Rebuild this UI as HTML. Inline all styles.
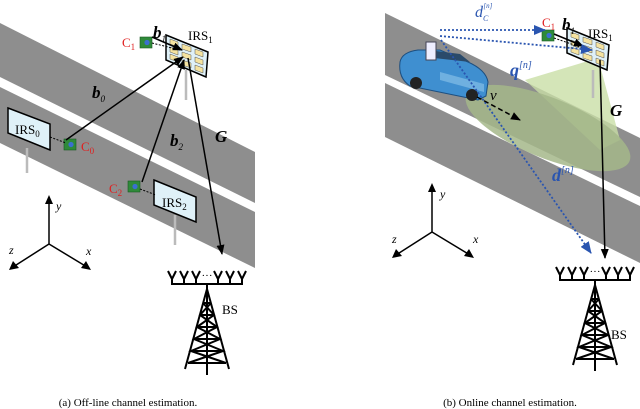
<!DOCTYPE html>
<html><head><meta charset="utf-8"><style>html,body{margin:0;padding:0;background:#fff}svg{display:block}</style></head>
<body>
<svg width="640" height="409" viewBox="0 0 640 409" xmlns="http://www.w3.org/2000/svg" font-family="Liberation Serif, serif">
<defs>
<marker id="ab" markerWidth="10" markerHeight="10" refX="9" refY="5" orient="auto" markerUnits="userSpaceOnUse"><path d="M0,1 L10,5 L0,9 z" fill="#000"/></marker>
<marker id="abl" markerWidth="12" markerHeight="10" refX="11" refY="5" orient="auto" markerUnits="userSpaceOnUse"><path d="M0,0 L12,5 L0,10 z" fill="#2a55b0"/></marker>
<g id="chip"><rect x="0" y="0" width="12" height="11" fill="#2f8a3a" stroke="#1a5a22" stroke-width="0.6"/><circle cx="7" cy="5.5" r="2.6" fill="#3a6fd0"/></g>
<g id="irs"><polygon points="0,0 42,17 40,42 0,25" fill="#dff1f8" stroke="#000" stroke-width="1.5"/>
<g fill="#f5e3a0" stroke="#555" stroke-width="0.5">
<polygon points="4,4 12,7 12,12 4,9"/><polygon points="16,9 25,12 25,17 16,14"/><polygon points="29,14 37,17 37,22 29,19"/>
<polygon points="4,12 12,15 12,20 4,17"/><polygon points="16,17 25,20 25,25 16,22"/><polygon points="29,22 37,25 37,30 29,27"/>
<polygon points="4,19 12,22 12,27 4,24"/><polygon points="16,25 25,28 25,33 16,30"/><polygon points="29,30 37,33 37,38 29,35"/></g></g>
<g id="bs"><path d="M-35,0 l-4,-8 M-35,0 l4,-8 M-23,0 l-4,-8 M-23,0 l4,-8 M-11,0 l-4,-8 M-11,0 l4,-8 M11,0 l-4,-8 M11,0 l4,-8 M23,0 l-4,-8 M23,0 l4,-8 M35,0 l-4,-8 M35,0 l4,-8 M-35,0 v5 H35 V0 M-23,0 v5 M-11,0 v5 M11,0 v5 M23,0 v5" stroke="#000" stroke-width="2" fill="none"/>
<text x="0" y="0" font-size="11" text-anchor="middle">···</text>
<path d="M0,5 V96 M0,10 L-22,90 M0,10 L22,90 M-4,24 L4,24 M-7,36 L7,36 M-10,48 L10,48 M-13,60 L13,60 M-16,72 L16,72 M-19,84 L19,84 M-4,24 L7,36 L-10,48 L13,60 L-16,72 L19,84 M4,24 L-7,36 L10,48 L-13,60 L16,72 L-19,84" stroke="#000" stroke-width="2" fill="none"/></g>
<g id="axes"><path d="M0,0 V-44 M0,0 L-36,23 M0,0 L38,23" stroke="#000" stroke-width="1.5" fill="none"/>
<path d="M0,-49 l-4,9 h8z M-40,26 l4,-9 l6,7z M42,26 l-10,-2 l5,-7z" fill="#000"/></g>
</defs>

<polygon points="0,23 255,152 255,203 0,77" fill="#8e8e8e"/>
<polygon points="0,87 255,212 255,268 0,143" fill="#8e8e8e"/>
<polygon points="385,13 640,138 640,197 385,75" fill="#8e8e8e"/>
<polygon points="385,83 640,206 640,263 385,137" fill="#8e8e8e"/>

<!-- LEFT -->
<line x1="27" y1="148" x2="27" y2="173" stroke="#bbb" stroke-width="2.5"/>
<line x1="175" y1="215" x2="175" y2="245" stroke="#bbb" stroke-width="2.5"/>
<line x1="186" y1="70" x2="186" y2="100" stroke="#bbb" stroke-width="2.5"/>
<polygon points="8,108 50,124 50,150 8,133" fill="#dff1f8" stroke="#000" stroke-width="1.5"/>
<text x="15" y="134" font-size="13">IRS<tspan font-size="9" dy="3">0</tspan></text>
<polygon points="154,180 196,197 196,222 154,205" fill="#dff1f8" stroke="#000" stroke-width="1.5"/>
<text x="162" y="207" font-size="13">IRS<tspan font-size="9" dy="3">2</tspan></text>
<use href="#irs" x="166" y="35"/>
<text x="188" y="40" font-size="13">IRS<tspan font-size="9" dy="3">1</tspan></text>
<use href="#chip" x="140" y="37"/>
<use href="#chip" x="64" y="139"/>
<use href="#chip" x="128" y="181"/>
<text x="122" y="47" font-size="13" fill="#e02020">C<tspan font-size="9" dy="3">1</tspan></text>
<text x="81" y="151" font-size="13" fill="#e02020">C<tspan font-size="9" dy="3">0</tspan></text>
<text x="109" y="193" font-size="13" fill="#e02020">C<tspan font-size="9" dy="3">2</tspan></text>
<path d="M50,137 L66,143 M140,189 L156,195 M152,43 L180,50" stroke="#000" stroke-width="1" stroke-dasharray="2,1.5"/>
<line x1="152" y1="37" x2="182" y2="50" stroke="#000" stroke-width="1.5" marker-end="url(#ab)"/>
<line x1="66" y1="140" x2="183" y2="57" stroke="#000" stroke-width="1.5" marker-end="url(#ab)"/>
<line x1="142" y1="182" x2="184" y2="60" stroke="#000" stroke-width="1.5" marker-end="url(#ab)"/>
<line x1="188" y1="58" x2="222" y2="254" stroke="#000" stroke-width="1.5" marker-end="url(#ab)"/>
<text x="153" y="38" font-size="17" font-weight="bold" font-style="italic">b<tspan font-size="9" dy="4" font-weight="normal">1</tspan></text>
<text x="92" y="98" font-size="17" font-weight="bold" font-style="italic">b<tspan font-size="9" dy="4" font-weight="normal">0</tspan></text>
<text x="170" y="146" font-size="17" font-weight="bold" font-style="italic">b<tspan font-size="9" dy="4" font-weight="normal">2</tspan></text>
<text x="215" y="142" font-size="17" font-weight="bold" font-style="italic">G</text>
<use href="#axes" x="49" y="244"/>
<text x="56" y="210" font-size="12" font-style="italic">y</text>
<text x="9" y="254" font-size="12" font-style="italic">z</text>
<text x="86" y="255" font-size="12" font-style="italic">x</text>
<use href="#bs" x="207" y="279"/>
<text x="222" y="314" font-size="13">BS</text>
<text x="128" y="406" font-size="11" text-anchor="middle">(a) Off-line channel estimation.</text>

<!-- RIGHT -->
<polygon points="598,58 525,80 600,150 620,140" fill="#c9dfa6" opacity="0.8"/>
<ellipse cx="548" cy="128" rx="88" ry="30" transform="rotate(22 548 128)" fill="#a4b78a" opacity="0.85"/>
<line x1="593" y1="70" x2="593" y2="98" stroke="#bbb" stroke-width="2.5"/>
<use href="#irs" x="567" y="28"/>
<text x="588" y="38" font-size="13">IRS<tspan font-size="9" dy="3">1</tspan></text>
<use href="#chip" x="542" y="30"/>
<text x="542" y="27" font-size="13" fill="#e02020">C<tspan font-size="9" dy="3">1</tspan></text>
<text x="562" y="30" font-size="17" font-weight="bold" font-style="italic">b<tspan font-size="9" dy="4" font-weight="normal">1</tspan></text>
<path d="M554,34 L583,46" stroke="#000" stroke-width="1.5" marker-end="url(#ab)"/>
<path d="M554,38 L583,48" stroke="#000" stroke-width="1" stroke-dasharray="2,1.5"/>
<!-- car -->
<g>
<path d="M400,62 Q402,52 418,50 L440,50 L468,62 Q486,70 488,82 L486,96 L478,100 L410,86 Q398,78 400,62z" fill="#3f8fd0" stroke="#1d4f80" stroke-width="1"/>
<path d="M428,50 L460,54 L470,62 L434,58z" fill="#2a4a6a"/>
<path d="M440,72 L484,84 L484,92 L440,80z" fill="#6fb0e0"/>
<rect x="426" y="42" width="10" height="18" fill="#eef" stroke="#445"/>
<circle cx="416" cy="83" r="6" fill="#222"/><circle cx="472" cy="95" r="6" fill="#222"/>
</g>
<path d="M440,30 L545,30" stroke="#2a55b0" stroke-width="1.8" stroke-dasharray="2,2" marker-end="url(#abl)"/>
<path d="M440,36 L592,50" stroke="#2a55b0" stroke-width="1.8" stroke-dasharray="2,2" marker-end="url(#abl)"/>
<path d="M441,40 L591,253" stroke="#2a55b0" stroke-width="1.8" stroke-dasharray="2,2" marker-end="url(#abl)"/>
<line x1="600" y1="60" x2="605" y2="258" stroke="#000" stroke-width="1.5" marker-end="url(#ab)"/>
<path d="M477,97 L520,120" stroke="#000" stroke-width="1.5" stroke-dasharray="5,3" marker-end="url(#ab)"/>
<text x="490" y="100" font-size="15" font-style="italic">v</text>
<text x="475" y="17" font-size="16" font-style="italic" fill="#2a55b0">d<tspan font-size="8" dy="4">C</tspan><tspan font-size="7" dx="-5" dy="-13">[n]</tspan></text>
<text x="510" y="76" font-size="18" font-weight="bold" font-style="italic" fill="#2a55b0">q<tspan font-size="10" dy="-8" font-weight="normal">[n]</tspan></text>
<text x="552" y="181" font-size="18" font-weight="bold" font-style="italic" fill="#2a55b0">d<tspan font-size="10" dy="-8" font-weight="normal">[n]</tspan></text>
<text x="610" y="116" font-size="17" font-weight="bold" font-style="italic">G</text>
<use href="#axes" x="432" y="232"/>
<text x="440" y="198" font-size="12" font-style="italic">y</text>
<text x="392" y="243" font-size="12" font-style="italic">z</text>
<text x="473" y="243" font-size="12" font-style="italic">x</text>
<use href="#bs" x="595" y="275"/>
<text x="611" y="339" font-size="13">BS</text>
<text x="510" y="406" font-size="11" text-anchor="middle">(b) Online channel estimation.</text>
</svg>
</body></html>
